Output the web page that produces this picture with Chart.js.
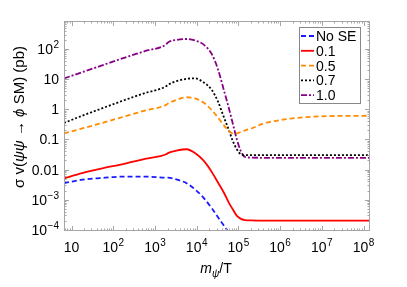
<!DOCTYPE html>
<html>
<head>
<meta charset="utf-8">
<script src="https://cdn.jsdelivr.net/npm/chart.js@4.4.1/dist/chart.umd.min.js"></script>
<style>
    html, body { margin: 0; padding: 0; background: #fff; }
    #chart { display: block; }
</style>
</head>
<body>
<canvas id="chart" width="407" height="287"></canvas>
<script>
// m_psi / T sample points (shared by every curve)
const massValues = [6.6, 18, 48, 182, 575, 1850, 2050, 3240, 5750, 9100, 14500, 23000, 32500,
    46000, 58000, 72500, 91000, 115000, 145000, 205000, 365000, 575000, 1.8e6, 9.1e6, 1.43e8];

// sigma v in pb, one array per curve
const noSE = [0.0035, 0.0046, 0.0052, 0.0058, 0.0058, 0.0054, 0.0054, 0.0047, 0.0035, 0.0022, 0.00117,
    0.00052, 0.00026, 0.000132, 0.000083, 0.000045, null, null, null, null, null, null, null, null, null];
const se01 = [0.0051, 0.0076, 0.0105, 0.0155, 0.0224, 0.032, 0.035, 0.042, 0.047, 0.0355, 0.02, 0.0083,
    0.0037, 0.0016, 0.00083, 0.00049, 0.000295, 0.00023, 0.00021, 0.000204, 0.000202, 0.0002, 0.0002, 0.0002, 0.0002];
const se05 = [0.158, 0.23, 0.335, 0.57, 0.9, 1.4, 1.55, 2.04, 2.5, 2.3, 1.68, 0.94, 0.53, 0.28, 0.2,
    0.158, 0.158, 0.178, 0.2, 0.23, 0.32, 0.38, 0.49, 0.58, 0.61];
const se07 = [0.35, 0.61, 1.01, 1.99, 3.45, 5.8, 6.5, 8.5, 10.2, 10.6, 7.9, 4.4, 1.78, 0.5, 0.22, 0.093,
    0.048, 0.032, 0.030, 0.030, 0.030, 0.030, 0.030, 0.030, 0.030];
const se10 = [10.5, 17, 27, 51, 85, 142, 165, 200, 215, 192, 142, 68, 21, 3.8, 1.2, 0.36, 0.105, 0.040,
    0.026, 0.0248, 0.0245, 0.0245, 0.0245, 0.0245, 0.0245];

const seriesNames = ['No SE', '0.1', '0.5', '0.7', '1.0'];

// tick labels
const xTickValues = [10, 1e2, 1e3, 1e4, 1e5, 1e6, 1e7, 1e8];
const xTickBase = ['10', '10', '10', '10', '10', '10', '10', '10'];
const xTickExp = ['', '2', '3', '4', '5', '6', '7', '8'];
const yTickValues = [1e-4, 1e-3, 0.01, 0.1, 1, 10, 100];
const yTickBase = ['10', '10', '0.01', '0.1', '1', '10', '10'];
const yTickExp = ['\u22124', '\u22123', '', '', '', '', '2'];

const FONT = '"Liberation Sans", Arial, sans-serif';
const FRAME = '#a6a6a6';

function points(ys) {
    return massValues.map((x, i) => ({ x: x, y: ys[i] }));
}

function line(label, ys, color, dash) {
    return {
        label: label,
        data: points(ys),
        borderColor: color,
        borderWidth: 1.8,
        borderDash: dash,
        pointRadius: 0,
        cubicInterpolationMode: 'monotone',
        clip: 0
    };
}

function drawSup(ctx, base, exp, x, y, align) {
    ctx.font = '14px ' + FONT;
    const wb = ctx.measureText(base).width;
    ctx.font = '10px ' + FONT;
    const we = exp ? ctx.measureText(exp).width + 0.5 : 0;
    let start = x;
    if (align === 'center') start = x - (wb + we) / 2;
    else if (align === 'right') start = x - wb - we;
    ctx.textAlign = 'left';
    ctx.textBaseline = 'alphabetic';
    ctx.font = '14px ' + FONT;
    ctx.fillText(base, start, y);
    if (exp) {
        ctx.font = '10px ' + FONT;
        ctx.fillText(exp, start + wb + 0.5, y - 6);
    }
}

// frame with inward ticks on all four sides, tick labels, titles and legend box
const framePlugin = {
    id: 'framePlugin',
    afterDraw(chart) {
        const ctx = chart.ctx;
        const a = chart.chartArea;
        const xs = chart.scales.x;
        const ys = chart.scales.y;
        ctx.save();
        ctx.strokeStyle = FRAME;
        ctx.lineWidth = 1;
        ctx.strokeRect(a.left + 0.5, a.top + 0.5, a.right - a.left - 1, a.bottom - a.top - 1);

        ctx.beginPath();
        for (let k = 0; k <= 8; k++) {
            for (let m = 1; m <= 9; m++) {
                const v = m * Math.pow(10, k);
                if (v < xs.min || v > xs.max) continue;
                const px = Math.round(xs.getPixelForValue(v)) + 0.5;
                const len = m === 1 ? 5 : 2.5;
                ctx.moveTo(px, a.bottom); ctx.lineTo(px, a.bottom - len);
                ctx.moveTo(px, a.top); ctx.lineTo(px, a.top + len);
            }
        }
        for (let k = -5; k <= 3; k++) {
            for (let m = 1; m <= 9; m++) {
                const v = m * Math.pow(10, k);
                if (v < ys.min || v > ys.max) continue;
                const py = Math.round(ys.getPixelForValue(v)) + 0.5;
                const len = m === 1 ? 5 : 2.5;
                ctx.moveTo(a.left, py); ctx.lineTo(a.left + len, py);
                ctx.moveTo(a.right, py); ctx.lineTo(a.right - len, py);
            }
        }
        ctx.stroke();

        ctx.fillStyle = '#000';
        xTickValues.forEach((v, i) => {
            drawSup(ctx, xTickBase[i], xTickExp[i], xs.getPixelForValue(v), a.bottom + 21, 'center');
        });
        yTickValues.forEach((v, i) => {
            drawSup(ctx, yTickBase[i], yTickExp[i], a.left - 5, ys.getPixelForValue(v) + 5, 'right');
        });

        // x title: m_psi / T
        const xParts = [['m', 'italic 14px', 0], ['\u03c8', 'italic 10px', 4], ['/T', '14px', 0]];
        let w = 0;
        xParts.forEach(p => { ctx.font = p[1] + ' ' + FONT; w += ctx.measureText(p[0]).width; });
        let cx = 216 - w / 2;
        ctx.textAlign = 'left';
        xParts.forEach(p => {
            ctx.font = p[1] + ' ' + FONT;
            ctx.fillText(p[0], cx, 273 + p[2]);
            cx += ctx.measureText(p[0]).width;
        });

        // y title
        const yParts = [['\u03c3 v(', '15px'], ['\u03c8\u03c8', 'italic 15px'], [' \u2192 ', '15px'],
            ['\u03d5', 'italic 15px'], [' SM) (pb)', '15px']];
        ctx.save();
        ctx.translate(24, 117);
        ctx.rotate(-Math.PI / 2);
        w = 0;
        yParts.forEach(p => { ctx.font = p[1] + ' ' + FONT; w += ctx.measureText(p[0]).width; });
        cx = -w / 2;
        yParts.forEach(p => {
            ctx.font = p[1] + ' ' + FONT;
            ctx.fillText(p[0], cx, 0);
            cx += ctx.measureText(p[0]).width;
        });
        ctx.restore();

        // legend
        ctx.strokeStyle = '#888';
        ctx.strokeRect(299.5, 27.5, 61, 76);
        chart.data.datasets.forEach((ds, i) => {
            const y = 36 + i * 14.8;
            ctx.save();
            ctx.strokeStyle = ds.borderColor;
            ctx.lineWidth = 1.8;
            ctx.setLineDash(ds.borderDash || []);
            ctx.beginPath();
            ctx.moveTo(301, y);
            ctx.lineTo(314, y);
            ctx.stroke();
            ctx.restore();
            ctx.fillStyle = '#000';
            ctx.font = '14px ' + FONT;
            ctx.textAlign = 'left';
            ctx.fillText(ds.label, 316, y + 5);
        });
        ctx.restore();
    }
};

new Chart(document.getElementById('chart'), {
    type: 'line',
    data: {
        datasets: [
            line(seriesNames[0], noSE, '#1a1aff', [5, 3]),
            line(seriesNames[1], se01, '#ff0000', []),
            line(seriesNames[2], se05, '#ff8c00', [5, 3]),
            line(seriesNames[3], se07, '#000000', [2, 2]),
            line(seriesNames[4], se10, '#880088', [6, 2, 2, 2])
        ]
    },
    options: {
        responsive: false,
        animation: false,
        devicePixelRatio: 1,
        layout: { padding: { left: 64, top: 21, right: 37, bottom: 56 } },
        scales: {
            x: { type: 'logarithmic', min: 6.6, max: 1.43e8, display: false },
            y: { type: 'logarithmic', min: 9.1e-5, max: 850, display: false }
        },
        plugins: {
            legend: { display: false },
            tooltip: { enabled: false }
        }
    },
    plugins: [framePlugin]
});
</script>
</body>
</html>
